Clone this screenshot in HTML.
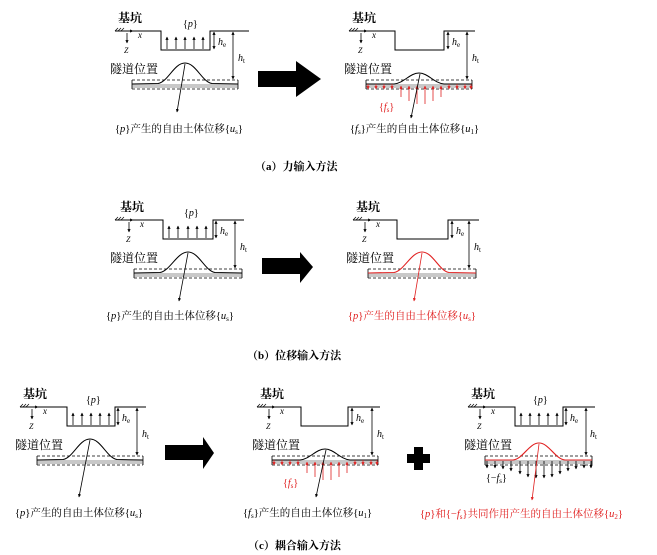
<!DOCTYPE html>
<html><head><meta charset="utf-8"><style>
html,body{margin:0;padding:0;background:#fff;}
svg{display:block;font-family:"Liberation Serif","Noto Serif CJK SC","Noto Sans CJK SC",serif;}
.cn{font-family:"Liberation Serif","Noto Serif CJK SC",serif;}
.it{font-style:italic;}
</style></head><body>
<svg width="657" height="555" viewBox="0 0 657 555" xmlns="http://www.w3.org/2000/svg">
<defs>
<marker id="ab" viewBox="0 0 10 10" refX="9" refY="5" markerWidth="4" markerHeight="4" orient="auto-start-reverse"><path d="M0,0L10,5L0,10z" fill="#000"/></marker>
<marker id="ar" viewBox="0 0 10 10" refX="9" refY="5" markerWidth="4" markerHeight="4" orient="auto-start-reverse"><path d="M0,0L10,5L0,10z" fill="#e02020"/></marker>
</defs>

<!-- ========== (a) LEFT ========== -->
<g transform="translate(0,0)">
<text x="118" y="22" font-size="12" font-weight="bold">基坑</text>
<path d="M115,31l3,-3M118,31l3,-3M121,31l3,-3" stroke="#000" stroke-width="0.7"/>
<polyline points="115,31 161,31 161,50 210,50 210,31 249,31" fill="none" stroke="#000" stroke-width="1"/>
<line x1="122" y1="31" x2="133" y2="31" stroke="#000" stroke-width="0.8" marker-end="url(#ab)"/>
<text x="138" y="38" font-size="9" class="it">x</text>
<line x1="127" y1="33" x2="127" y2="43" stroke="#000" stroke-width="0.8" marker-end="url(#ab)"/>
<text x="124" y="53" font-size="8" class="it">Z</text>
<line x1="214" y1="32" x2="214" y2="49" stroke="#000" stroke-width="0.8" marker-start="url(#ab)" marker-end="url(#ab)"/>
<text x="218" y="45" font-size="10" class="it">h<tspan font-size="7" dy="2" font-style="normal">e</tspan></text>
<line x1="233" y1="32" x2="233" y2="79" stroke="#000" stroke-width="0.8" marker-start="url(#ab)" marker-end="url(#ab)"/>
<text x="238" y="61" font-size="10" class="it">h<tspan font-size="7" dy="2" font-style="normal">t</tspan></text>
<text x="183" y="27" font-size="10">{<tspan class="it">p</tspan>}</text>
<g stroke="#000" stroke-width="0.8"><line x1="167" y1="49" x2="167" y2="37" marker-end="url(#ab)"/><line x1="176" y1="49" x2="176" y2="37" marker-end="url(#ab)"/><line x1="185" y1="49" x2="185" y2="37" marker-end="url(#ab)"/><line x1="194" y1="49" x2="194" y2="37" marker-end="url(#ab)"/><line x1="203" y1="49" x2="203" y2="37" marker-end="url(#ab)"/></g>
<text x="110" y="73" font-size="12">隧道位置</text>
<rect x="132" y="84" width="106" height="4" fill="#c8c8c8"/>
<path d="M132,80H238M132,89H238" stroke="#000" stroke-width="0.8" stroke-dasharray="3,2"/>
<path d="M132,80V89M238,80V89" stroke="#000" stroke-width="0.8"/>
<path d="M132,84 L158,83.5 C168,82 174,63 185,63 C196,63 202,82 212,83.5 L238,84" fill="none" stroke="#000" stroke-width="1"/>
<line x1="185" y1="64" x2="177" y2="112" stroke="#000" stroke-width="0.8" marker-end="url(#ab)"/>
<text x="115" y="132" font-size="10.5">{<tspan class="it">p</tspan>}产生的自由土体位移{<tspan class="it">u</tspan><tspan font-size="7" dy="2">s</tspan><tspan dy="-2">}</tspan></text>
</g>

<!-- big arrow (a) -->
<path d="M258,71H296V61L321,79L296,97V87H258z" fill="#000"/>

<!-- ========== (a) RIGHT ========== -->
<g transform="translate(234,0)">
<text x="118" y="22" font-size="12" font-weight="bold">基坑</text>
<path d="M115,31l3,-3M118,31l3,-3M121,31l3,-3" stroke="#000" stroke-width="0.7"/>
<polyline points="115,31 161,31 161,50 210,50 210,31 241,31" fill="none" stroke="#000" stroke-width="1"/>
<line x1="122" y1="31" x2="133" y2="31" stroke="#000" stroke-width="0.8" marker-end="url(#ab)"/>
<text x="138" y="38" font-size="9" class="it">x</text>
<line x1="127" y1="33" x2="127" y2="43" stroke="#000" stroke-width="0.8" marker-end="url(#ab)"/>
<text x="124" y="53" font-size="8" class="it">Z</text>
<line x1="214" y1="32" x2="214" y2="49" stroke="#000" stroke-width="0.8" marker-start="url(#ab)" marker-end="url(#ab)"/>
<text x="218" y="45" font-size="10" class="it">h<tspan font-size="7" dy="2" font-style="normal">e</tspan></text>
<line x1="233" y1="32" x2="233" y2="79" stroke="#000" stroke-width="0.8" marker-start="url(#ab)" marker-end="url(#ab)"/>
<text x="238" y="61" font-size="10" class="it">h<tspan font-size="7" dy="2" font-style="normal">t</tspan></text>
<text x="110" y="73" font-size="12">隧道位置</text>
<rect x="132" y="84" width="106" height="4" fill="#c8c8c8"/>
<path d="M132,80H238M132,89H238" stroke="#000" stroke-width="0.8" stroke-dasharray="3,2"/>
<path d="M132,80V89M238,80V89" stroke="#000" stroke-width="0.8"/>
<path d="M132,84 L160,84 C170,83 176,73 185,73 C194,73 200,83 210,84 L238,84" fill="none" stroke="#000" stroke-width="1"/>
<g stroke="#e02020" stroke-width="0.8">
<line x1="134" y1="84" x2="134" y2="89" marker-end="url(#ar)"/><line x1="142" y1="84" x2="142" y2="89" marker-end="url(#ar)"/><line x1="150" y1="84" x2="150" y2="89" marker-end="url(#ar)"/><line x1="158" y1="84" x2="158" y2="89" marker-end="url(#ar)"/>
<line x1="167" y1="97" x2="167" y2="86" marker-end="url(#ar)"/><line x1="175" y1="101" x2="175" y2="86" marker-end="url(#ar)"/><line x1="183" y1="104" x2="183" y2="86" marker-end="url(#ar)"/><line x1="191" y1="104" x2="191" y2="86" marker-end="url(#ar)"/><line x1="199" y1="101" x2="199" y2="86" marker-end="url(#ar)"/><line x1="207" y1="97" x2="207" y2="86" marker-end="url(#ar)"/>
<line x1="215" y1="84" x2="215" y2="89" marker-end="url(#ar)"/><line x1="223" y1="84" x2="223" y2="89" marker-end="url(#ar)"/><line x1="231" y1="84" x2="231" y2="89" marker-end="url(#ar)"/><line x1="237" y1="84" x2="237" y2="89" marker-end="url(#ar)"/>
</g>
<text x="145" y="110" font-size="10" fill="#e02020">{<tspan class="it">f</tspan><tspan font-size="7" dy="2">s</tspan><tspan dy="-2">}</tspan></text>
<line x1="186" y1="74" x2="177" y2="118" stroke="#000" stroke-width="0.8" marker-end="url(#ab)"/>
<text x="116" y="132" font-size="10.5">{<tspan class="it">f</tspan><tspan font-size="7" dy="2">s</tspan><tspan dy="-2">}产生的自由土体位移{</tspan><tspan class="it">u</tspan><tspan font-size="7" dy="2">1</tspan><tspan dy="-2">}</tspan></text>
</g>

<text x="255" y="170" font-size="11" font-weight="bold">（a）力输入方法</text>

<!-- ========== (b) LEFT ========== -->
<g transform="translate(0,189)">
<text x="120" y="22" font-size="12" font-weight="bold">基坑</text>
<path d="M115,31l3,-3M118,31l3,-3M121,31l3,-3" stroke="#000" stroke-width="0.7"/>
<polyline points="115,31 163,31 163,50 213,50 213,31 244,31" fill="none" stroke="#000" stroke-width="1"/>
<line x1="122" y1="31" x2="133" y2="31" stroke="#000" stroke-width="0.8" marker-end="url(#ab)"/>
<text x="140" y="38" font-size="9" class="it">x</text>
<line x1="129" y1="33" x2="129" y2="43" stroke="#000" stroke-width="0.8" marker-end="url(#ab)"/>
<text x="126" y="53" font-size="8" class="it">Z</text>
<line x1="216" y1="32" x2="216" y2="49" stroke="#000" stroke-width="0.8" marker-start="url(#ab)" marker-end="url(#ab)"/>
<text x="220" y="45" font-size="10" class="it">h<tspan font-size="7" dy="2" font-style="normal">e</tspan></text>
<line x1="235" y1="32" x2="235" y2="79" stroke="#000" stroke-width="0.8" marker-start="url(#ab)" marker-end="url(#ab)"/>
<text x="240" y="61" font-size="10" class="it">h<tspan font-size="7" dy="2" font-style="normal">t</tspan></text>
<text x="184" y="27" font-size="10">{<tspan class="it">p</tspan>}</text>
<g stroke="#000" stroke-width="0.8"><line x1="169" y1="49" x2="169" y2="37" marker-end="url(#ab)"/><line x1="178" y1="49" x2="178" y2="37" marker-end="url(#ab)"/><line x1="188" y1="49" x2="188" y2="37" marker-end="url(#ab)"/><line x1="197" y1="49" x2="197" y2="37" marker-end="url(#ab)"/><line x1="206" y1="49" x2="206" y2="37" marker-end="url(#ab)"/></g>
<text x="110" y="73" font-size="12">隧道位置</text>
<rect x="134" y="84" width="108" height="4" fill="#c8c8c8"/>
<path d="M134,80H242M134,89H242" stroke="#000" stroke-width="0.8" stroke-dasharray="3,2"/>
<path d="M134,80V89M242,80V89" stroke="#000" stroke-width="0.8"/>
<path d="M134,84 L160,83.5 C170,82 177,63 188,63 C199,63 205,82 215,83.5 L242,84" fill="none" stroke="#000" stroke-width="1"/>
<line x1="188" y1="64" x2="179" y2="112" stroke="#000" stroke-width="0.8" marker-end="url(#ab)"/>
<text x="106" y="130" font-size="10.5">{<tspan class="it">p</tspan>}产生的自由土体位移{<tspan class="it">u</tspan><tspan font-size="7" dy="2">s</tspan><tspan dy="-2">}</tspan></text>
</g>

<path d="M262,258H300V252L313,267L300,283V274H262z" fill="#000"/>

<!-- ========== (b) RIGHT ========== -->
<g transform="translate(238,189)">
<text x="118" y="22" font-size="12" font-weight="bold">基坑</text>
<path d="M115,31l3,-3M118,31l3,-3M121,31l3,-3" stroke="#000" stroke-width="0.7"/>
<polyline points="115,31 159,31 159,50 210,50 210,31 241,31" fill="none" stroke="#000" stroke-width="1"/>
<line x1="122" y1="31" x2="133" y2="31" stroke="#000" stroke-width="0.8" marker-end="url(#ab)"/>
<text x="138" y="38" font-size="9" class="it">x</text>
<line x1="127" y1="33" x2="127" y2="43" stroke="#000" stroke-width="0.8" marker-end="url(#ab)"/>
<text x="124" y="53" font-size="8" class="it">Z</text>
<line x1="214" y1="32" x2="214" y2="49" stroke="#000" stroke-width="0.8" marker-start="url(#ab)" marker-end="url(#ab)"/>
<text x="218" y="45" font-size="10" class="it">h<tspan font-size="7" dy="2" font-style="normal">e</tspan></text>
<line x1="231" y1="32" x2="231" y2="79" stroke="#000" stroke-width="0.8" marker-start="url(#ab)" marker-end="url(#ab)"/>
<text x="236" y="61" font-size="10" class="it">h<tspan font-size="7" dy="2" font-style="normal">t</tspan></text>
<text x="108" y="73" font-size="12">隧道位置</text>
<rect x="130" y="84" width="108" height="4" fill="#c8c8c8"/>
<path d="M130,80H238M130,89H238" stroke="#000" stroke-width="0.8" stroke-dasharray="3,2"/>
<path d="M130,80V89M238,80V89" stroke="#000" stroke-width="0.8"/>
<path d="M130,84 L156,83.5 C166,82 173,63 184,63 C195,63 201,82 211,83.5 L238,84" fill="none" stroke="#e02020" stroke-width="1.1"/>
<line x1="184" y1="64" x2="176" y2="112" stroke="#e02020" stroke-width="0.8" marker-end="url(#ar)"/>
<text x="110" y="130" font-size="10.5" fill="#e02020">{<tspan class="it">p</tspan>}产生的自由土体位移{<tspan class="it">u</tspan><tspan font-size="7" dy="2">s</tspan><tspan dy="-2">}</tspan></text>
</g>

<text x="247" y="359" font-size="11" font-weight="bold">（b）位移输入方法</text>

<!-- ========== (c) LEFT ========== -->
<g transform="translate(-95,376)">
<text x="118" y="22" font-size="12" font-weight="bold">基坑</text>
<path d="M115,31l3,-3M118,31l3,-3M121,31l3,-3" stroke="#000" stroke-width="0.7"/>
<polyline points="115,31 162,31 162,50 210,50 210,31 241,31" fill="none" stroke="#000" stroke-width="1"/>
<line x1="122" y1="31" x2="133" y2="31" stroke="#000" stroke-width="0.8" marker-end="url(#ab)"/>
<text x="138" y="38" font-size="9" class="it">x</text>
<line x1="127" y1="33" x2="127" y2="43" stroke="#000" stroke-width="0.8" marker-end="url(#ab)"/>
<text x="124" y="53" font-size="8" class="it">Z</text>
<line x1="213" y1="32" x2="213" y2="49" stroke="#000" stroke-width="0.8" marker-start="url(#ab)" marker-end="url(#ab)"/>
<text x="217" y="45" font-size="10" class="it">h<tspan font-size="7" dy="2" font-style="normal">e</tspan></text>
<line x1="232" y1="32" x2="232" y2="79" stroke="#000" stroke-width="0.8" marker-start="url(#ab)" marker-end="url(#ab)"/>
<text x="237" y="61" font-size="10" class="it">h<tspan font-size="7" dy="2" font-style="normal">t</tspan></text>
<text x="181" y="27" font-size="10">{<tspan class="it">p</tspan>}</text>
<g stroke="#000" stroke-width="0.8"><line x1="168" y1="49" x2="168" y2="37" marker-end="url(#ab)"/><line x1="177" y1="49" x2="177" y2="37" marker-end="url(#ab)"/><line x1="186" y1="49" x2="186" y2="37" marker-end="url(#ab)"/><line x1="195" y1="49" x2="195" y2="37" marker-end="url(#ab)"/><line x1="204" y1="49" x2="204" y2="37" marker-end="url(#ab)"/></g>
<text x="110" y="73" font-size="12">隧道位置</text>
<rect x="132" y="84" width="106" height="4" fill="#c8c8c8"/>
<path d="M132,80H238M132,89H238" stroke="#000" stroke-width="0.8" stroke-dasharray="3,2"/>
<path d="M132,80V89M238,80V89" stroke="#000" stroke-width="0.8"/>
<path d="M132,84 L158,83.5 C168,82 174,63 185,63 C196,63 202,82 212,83.5 L238,84" fill="none" stroke="#000" stroke-width="1"/>
<line x1="185" y1="64" x2="174" y2="121" stroke="#000" stroke-width="0.8" marker-end="url(#ab)"/>
<text x="110" y="140" font-size="10.5">{<tspan class="it">p</tspan>}产生的自由土体位移{<tspan class="it">u</tspan><tspan font-size="7" dy="2">s</tspan><tspan dy="-2">}</tspan></text>
</g>

<path d="M165,445H203V437L214,453L203,469V460H165z" fill="#000"/>

<!-- ========== (c) MIDDLE ========== -->
<g transform="translate(142,376)">
<text x="118" y="22" font-size="12" font-weight="bold">基坑</text>
<path d="M115,31l3,-3M118,31l3,-3M121,31l3,-3" stroke="#000" stroke-width="0.7"/>
<polyline points="115,31 159,31 159,50 206,50 206,31 238,31" fill="none" stroke="#000" stroke-width="1"/>
<line x1="122" y1="31" x2="133" y2="31" stroke="#000" stroke-width="0.8" marker-end="url(#ab)"/>
<text x="138" y="38" font-size="9" class="it">x</text>
<line x1="127" y1="33" x2="127" y2="43" stroke="#000" stroke-width="0.8" marker-end="url(#ab)"/>
<text x="124" y="53" font-size="8" class="it">Z</text>
<line x1="210" y1="32" x2="210" y2="49" stroke="#000" stroke-width="0.8" marker-start="url(#ab)" marker-end="url(#ab)"/>
<text x="214" y="45" font-size="10" class="it">h<tspan font-size="7" dy="2" font-style="normal">e</tspan></text>
<line x1="230" y1="32" x2="230" y2="79" stroke="#000" stroke-width="0.8" marker-start="url(#ab)" marker-end="url(#ab)"/>
<text x="235" y="61" font-size="10" class="it">h<tspan font-size="7" dy="2" font-style="normal">t</tspan></text>
<text x="110" y="73" font-size="12">隧道位置</text>
<rect x="130" y="84" width="106" height="4" fill="#c8c8c8"/>
<path d="M130,80H236M130,89H236" stroke="#000" stroke-width="0.8" stroke-dasharray="3,2"/>
<path d="M130,80V89M236,80V89" stroke="#000" stroke-width="0.8"/>
<path d="M130,84 L158,84 C168,83 174,73 183,73 C192,73 198,83 208,84 L236,84" fill="none" stroke="#000" stroke-width="1"/>
<g stroke="#e02020" stroke-width="0.8">
<line x1="132" y1="84" x2="132" y2="89" marker-end="url(#ar)"/><line x1="140" y1="84" x2="140" y2="89" marker-end="url(#ar)"/><line x1="148" y1="84" x2="148" y2="89" marker-end="url(#ar)"/><line x1="156" y1="84" x2="156" y2="89" marker-end="url(#ar)"/>
<line x1="165" y1="97" x2="165" y2="86" marker-end="url(#ar)"/><line x1="173" y1="101" x2="173" y2="86" marker-end="url(#ar)"/><line x1="181" y1="104" x2="181" y2="86" marker-end="url(#ar)"/><line x1="189" y1="104" x2="189" y2="86" marker-end="url(#ar)"/><line x1="197" y1="101" x2="197" y2="86" marker-end="url(#ar)"/><line x1="205" y1="97" x2="205" y2="86" marker-end="url(#ar)"/>
<line x1="213" y1="84" x2="213" y2="89" marker-end="url(#ar)"/><line x1="221" y1="84" x2="221" y2="89" marker-end="url(#ar)"/><line x1="229" y1="84" x2="229" y2="89" marker-end="url(#ar)"/><line x1="235" y1="84" x2="235" y2="89" marker-end="url(#ar)"/>
</g>
<text x="141" y="110" font-size="10" fill="#e02020">{<tspan class="it">f</tspan><tspan font-size="7" dy="2">s</tspan><tspan dy="-2">}</tspan></text>
<line x1="184" y1="74" x2="174" y2="121" stroke="#000" stroke-width="0.8" marker-end="url(#ab)"/>
<text x="101" y="140" font-size="10.5">{<tspan class="it">f</tspan><tspan font-size="7" dy="2">s</tspan><tspan dy="-2">}产生的自由土体位移{</tspan><tspan class="it">u</tspan><tspan font-size="7" dy="2">1</tspan><tspan dy="-2">}</tspan></text>
</g>

<!-- plus -->
<path d="M414,447h9v7h7v9h-7v7h-9v-7h-7v-9h7z" fill="#000"/>

<!-- ========== (c) RIGHT ========== -->
<g transform="translate(353,376)">
<text x="118" y="22" font-size="12" font-weight="bold">基坑</text>
<path d="M115,31l3,-3M118,31l3,-3M121,31l3,-3" stroke="#000" stroke-width="0.7"/>
<polyline points="115,31 162,31 162,50 210,50 210,31 242,31" fill="none" stroke="#000" stroke-width="1"/>
<line x1="122" y1="31" x2="133" y2="31" stroke="#000" stroke-width="0.8" marker-end="url(#ab)"/>
<text x="138" y="38" font-size="9" class="it">x</text>
<line x1="127" y1="33" x2="127" y2="43" stroke="#000" stroke-width="0.8" marker-end="url(#ab)"/>
<text x="124" y="53" font-size="8" class="it">Z</text>
<line x1="213" y1="32" x2="213" y2="49" stroke="#000" stroke-width="0.8" marker-start="url(#ab)" marker-end="url(#ab)"/>
<text x="217" y="45" font-size="10" class="it">h<tspan font-size="7" dy="2" font-style="normal">e</tspan></text>
<line x1="233" y1="32" x2="233" y2="79" stroke="#000" stroke-width="0.8" marker-start="url(#ab)" marker-end="url(#ab)"/>
<text x="237" y="61" font-size="10" class="it">h<tspan font-size="7" dy="2" font-style="normal">t</tspan></text>
<text x="180" y="27" font-size="10">{<tspan class="it">p</tspan>}</text>
<g stroke="#000" stroke-width="0.8"><line x1="168" y1="49" x2="168" y2="37" marker-end="url(#ab)"/><line x1="177" y1="49" x2="177" y2="37" marker-end="url(#ab)"/><line x1="186" y1="49" x2="186" y2="37" marker-end="url(#ab)"/><line x1="195" y1="49" x2="195" y2="37" marker-end="url(#ab)"/><line x1="204" y1="49" x2="204" y2="37" marker-end="url(#ab)"/></g>
<text x="111" y="73" font-size="12">隧道位置</text>
<rect x="132" y="84" width="107" height="4" fill="#c8c8c8"/>
<path d="M132,80H239M132,89H239" stroke="#000" stroke-width="0.8" stroke-dasharray="3,2"/>
<path d="M132,80V89M239,80V89" stroke="#000" stroke-width="0.8"/>
<g stroke="#000" stroke-width="0.8">
<line x1="134" y1="85" x2="134" y2="92" marker-end="url(#ab)"/><line x1="142" y1="85" x2="142" y2="92" marker-end="url(#ab)"/><line x1="150" y1="85" x2="150" y2="93" marker-end="url(#ab)"/><line x1="158" y1="85" x2="158" y2="95" marker-end="url(#ab)"/>
<line x1="167" y1="85" x2="167" y2="98" marker-end="url(#ab)"/><line x1="175" y1="85" x2="175" y2="101" marker-end="url(#ab)"/><line x1="183" y1="85" x2="183" y2="102" marker-end="url(#ab)"/><line x1="191" y1="85" x2="191" y2="102" marker-end="url(#ab)"/><line x1="199" y1="85" x2="199" y2="101" marker-end="url(#ab)"/><line x1="207" y1="85" x2="207" y2="98" marker-end="url(#ab)"/>
<line x1="215" y1="85" x2="215" y2="95" marker-end="url(#ab)"/><line x1="223" y1="85" x2="223" y2="93" marker-end="url(#ab)"/><line x1="231" y1="85" x2="231" y2="92" marker-end="url(#ab)"/><line x1="238" y1="85" x2="238" y2="92" marker-end="url(#ab)"/>
</g>
<path d="M132,84 L160,84 C170,83 176,67 186,67 C196,67 202,83 212,84 L239,84" fill="none" stroke="#e02020" stroke-width="1.1"/>
<text x="133" y="105" font-size="10">{−<tspan class="it">f</tspan><tspan font-size="7" dy="2">s</tspan><tspan dy="-2">}</tspan></text>
<line x1="186" y1="68" x2="179" y2="124" stroke="#e02020" stroke-width="0.8" marker-end="url(#ar)"/>
<text x="67" y="141" font-size="10.5" fill="#e02020">{<tspan class="it">p</tspan>}和{−<tspan class="it">f</tspan><tspan font-size="7" dy="2">s</tspan><tspan dy="-2">}共同作用产生的自由土体位移{</tspan><tspan class="it">u</tspan><tspan font-size="7" dy="2">2</tspan><tspan dy="-2">}</tspan></text>
</g>

<text x="248" y="549" font-size="11" font-weight="bold">（c）耦合输入方法</text>
</svg>
</body></html>
